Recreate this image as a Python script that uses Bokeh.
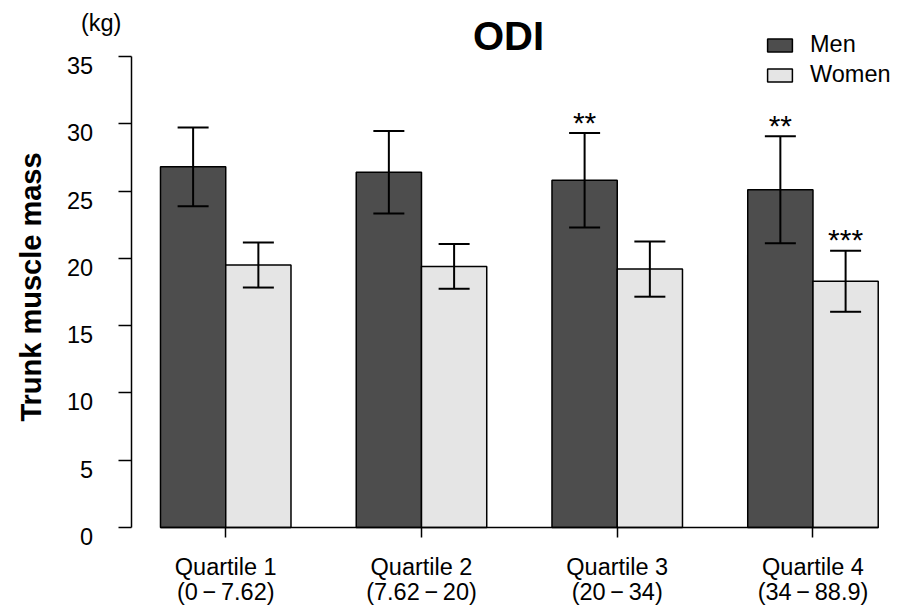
import math
from bokeh.plotting import figure
from bokeh.models import (ColumnDataSource, Whisker, TeeHead, Legend, LegendItem,
                          FixedTicker, Range1d)
from bokeh.embed import file_html
from bokeh.resources import INLINE
from bokeh.core.properties import value

# ---------------- data ----------------
quartiles = ["Quartile 1", "Quartile 2", "Quartile 3", "Quartile 4"]
odi_ranges = ["(0\u2009\u2212\u20097.62)", "(7.62\u2009\u2212\u200920)",
              "(20\u2009\u2212\u200934)", "(34\u2009\u2212\u200988.9)"]
men_mean = [26.8, 26.4, 25.8, 25.1]
men_sd = [2.93, 3.06, 3.51, 3.97]
women_mean = [19.5, 19.4, 19.2, 18.3]
women_sd = [1.67, 1.66, 2.05, 2.27]
men_sig = ["", "", "**", "**"]
women_sig = ["", "", "", "***"]
y_ticks = [0, 5, 10, 15, 20, 25, 30, 35]
y_tick_labels = [str(t) for t in y_ticks]

FONT = "Liberation Sans"
FS = "23.5px"
MEN_COLOR = "#4d4d4d"
WOMEN_COLOR = "#e5e5e5"

# bar layout: each group = 2 bars of width 1, groups separated by a gap of 1
group_centers = [3 * i + 2 for i in range(len(quartiles))]
men_x = [c - 0.5 for c in group_centers]
women_x = [c + 0.5 for c in group_centers]
Y_AXIS_AT = 0.55

men_src = ColumnDataSource(dict(
    x=men_x, top=men_mean,
    upper=[m + s for m, s in zip(men_mean, men_sd)],
    lower=[m - s for m, s in zip(men_mean, men_sd)],
    sig=men_sig))
women_src = ColumnDataSource(dict(
    x=women_x, top=women_mean,
    upper=[m + s for m, s in zip(women_mean, women_sd)],
    lower=[m - s for m, s in zip(women_mean, women_sd)],
    sig=women_sig))

p = figure(width=899, height=609,
           x_range=Range1d(-1.452, 12.326), y_range=Range1d(-6.093, 39.16),
           output_backend="svg", toolbar_location=None, title=None,
           min_border=0, min_border_left=0, min_border_right=0,
           min_border_top=0, min_border_bottom=0)
p.xgrid.visible = False
p.ygrid.visible = False
p.outline_line_color = None
p.background_fill_color = "white"
p.border_fill_color = "white"

men_r = p.vbar(x="x", top="top", bottom=0, width=1, source=men_src,
               fill_color=MEN_COLOR, line_color="black", line_width=1.5)
women_r = p.vbar(x="x", top="top", bottom=0, width=1, source=women_src,
                 fill_color=WOMEN_COLOR, line_color="black", line_width=1.5)

for src in (men_src, women_src):
    w = Whisker(source=src, base="x", upper="upper", lower="lower",
                line_color="black", line_width=2, level="annotation",
                upper_head=TeeHead(size=31, line_width=2, line_color="black"),
                lower_head=TeeHead(size=31, line_width=2, line_color="black"))
    p.add_layout(w)
    p.text(x="x", y="upper", text="sig", source=src, text_align="center",
           text_baseline="middle", y_offset=-11,
           text_font=value(FONT), text_font_size="30px", text_color="black")

# axes drawn at fixed data locations
ya = p.yaxis[0]
ya.fixed_location = Y_AXIS_AT
ya.ticker = FixedTicker(ticks=y_ticks)
ya.bounds = (0, 35)
ya.major_tick_out = 13
ya.major_tick_in = 0
ya.minor_tick_out = 0
ya.minor_tick_in = 0
ya.axis_line_width = 1.5
ya.major_tick_line_width = 1.5
ya.major_label_overrides = {t: "" for t in y_ticks}

xa = p.xaxis[0]
xa.fixed_location = 0
xa.ticker = FixedTicker(ticks=group_centers)
xa.bounds = (1, 12)
xa.major_tick_out = 10
xa.major_tick_in = 0
xa.minor_tick_out = 0
xa.minor_tick_in = 0
xa.axis_line_width = 1.5
xa.major_tick_line_width = 1.5
xa.major_label_overrides = {c: "" for c in group_centers}

# y tick labels
p.text(x=[Y_AXIS_AT] * len(y_ticks), y=y_ticks, text=y_tick_labels,
       x_offset=-38, y_offset=9, text_align="right", text_baseline="middle",
       text_font=value(FONT), text_font_size=FS, text_color="black")

# x tick labels (two lines)
p.text(x=group_centers, y=[0] * 4, text=quartiles, y_offset=39,
       text_align="center", text_baseline="middle",
       text_font=value(FONT), text_font_size=FS, text_color="black")
p.text(x=group_centers, y=[0] * 4, text=odi_ranges, y_offset=64,
       text_align="center", text_baseline="middle",
       text_font=value(FONT), text_font_size=FS, text_color="black")

# axis title, unit and plot title
p.text(x=[-0.977], y=[17.87], text=["Trunk muscle mass"], angle=math.pi / 2,
       text_align="center", text_baseline="middle",
       text_font=value(FONT), text_font_size="29px", text_font_style="bold",
       text_color="black")
p.text(x=[Y_AXIS_AT], y=[35], text=["(kg)"], x_offset=-30, y_offset=-33,
       text_align="center", text_baseline="middle",
       text_font=value(FONT), text_font_size=FS, text_color="black")
p.text(x=[6.333], y=[36.38], text=["ODI"], y_offset=-2,
       text_align="center", text_baseline="middle",
       text_font=value(FONT), text_font_size="40px", text_font_style="bold",
       text_color="black")

legend = Legend(items=[LegendItem(label="Men", renderers=[men_r]),
                       LegendItem(label="Women", renderers=[women_r])],
                location=(764, 521), margin=0, padding=0, spacing=3,
                glyph_width=31, glyph_height=16, label_standoff=15,
                label_text_font=FONT, label_text_font_size=FS,
                label_text_color="black", border_line_color=None,
                background_fill_alpha=0)
p.add_layout(legend)

open("out.html", "w").write(file_html(p, INLINE))
